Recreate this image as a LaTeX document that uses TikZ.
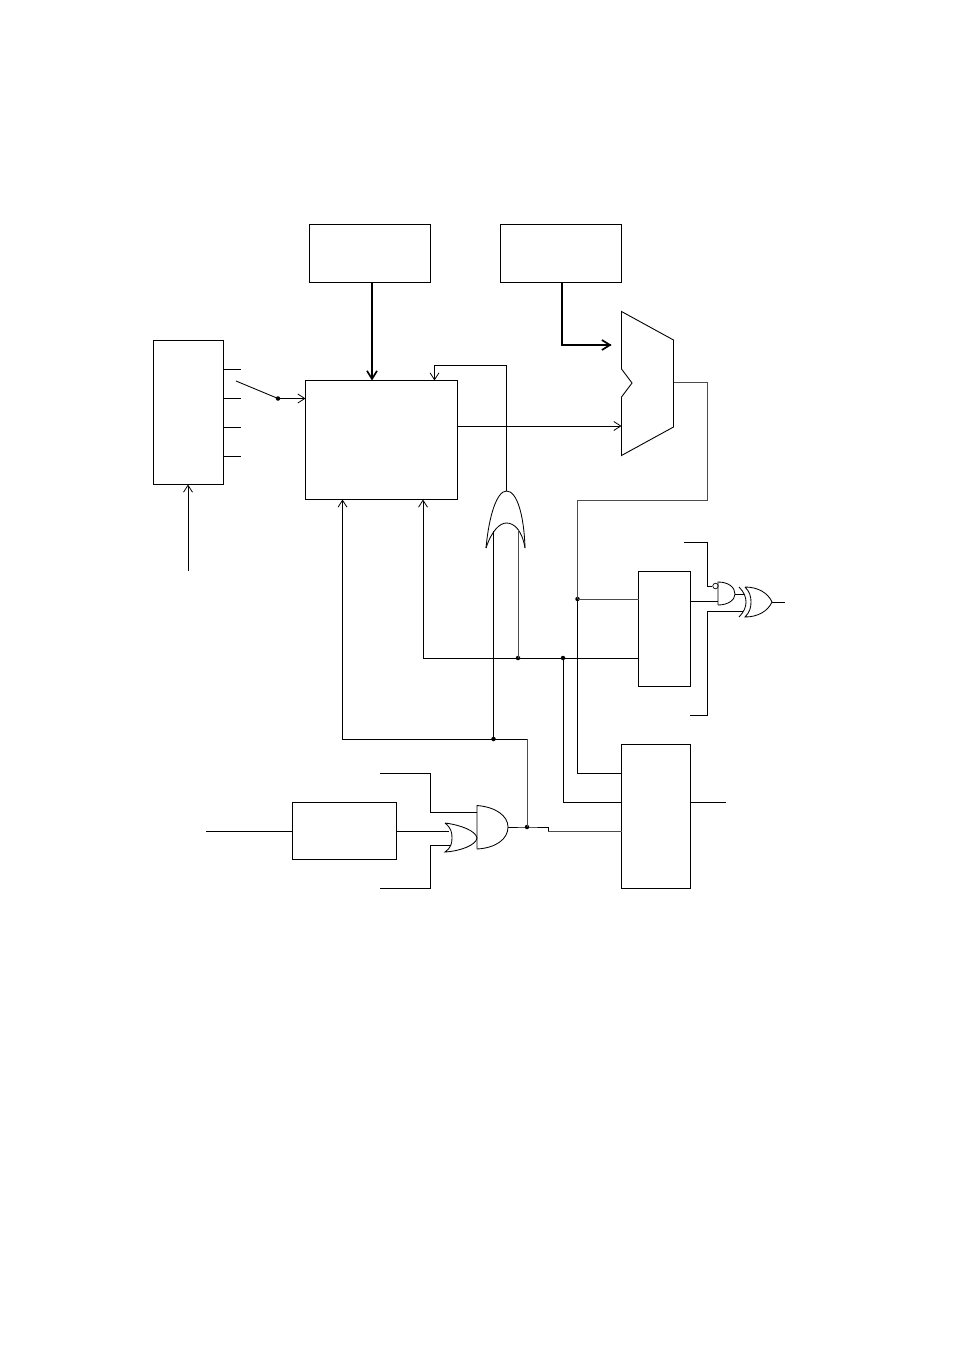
\documentclass[tikz,border=0pt]{standalone}
\usetikzlibrary{arrows.meta}
\definecolor{wiregray}{gray}{0.3}
\tikzset{
  box/.style={draw=black,line width=0.9pt,inner sep=0pt,outer sep=0pt,anchor=north west},
  wire/.style={draw=black,line width=0.85pt},
  graywire/.style={draw=wiregray,line width=1pt},
  gate/.style={draw=black,line width=0.85pt},
  bus/.style={draw=black,line width=1.7pt,-{Straight Barb[length=8pt,width=10pt,line width=1.7pt]}},
  arr/.style={-{Straight Barb[length=7pt,width=9pt,line width=0.8pt]}},
  junction/.style={circle,fill=black,inner sep=0pt,minimum size=4.5pt},
}
\begin{document}
\begin{tikzpicture}[x=1pt,y=-1pt]
\useasboundingbox (0,0) rectangle (954,1351);
% boxes
\node[box,minimum width=121pt,minimum height=58pt] (a) at (309.5,224.5) {};
\node[box,minimum width=121pt,minimum height=58pt] (b) at (500.5,224.5) {};
\node[box,minimum width=70pt,minimum height=144pt] (c) at (153.5,340.5) {};
\node[box,minimum width=152pt,minimum height=119pt] (d) at (305.5,380.5) {};
\draw[line width=1.5pt] (d.south west) -- (d.south east) -- (d.north east);
\node[box,minimum width=52pt,minimum height=115pt] (e) at (638.5,571.5) {};
\node[box,minimum width=69pt,minimum height=144pt] (f) at (621.5,744.5) {};
\node[box,minimum width=104pt,minimum height=57pt] (g) at (292.5,802.5) {};
% mux
\draw[gate,line width=0.9pt] (621.5,311.5) -- (673.5,340) -- (673.5,427) -- (621.5,455.5) -- (621.5,397) -- (632,383) -- (621.5,369) -- cycle;
\coordinate (muxin1) at (621.5,345);
\coordinate (muxin2) at (621.5,426);
\coordinate (muxout) at (673.5,382.5);
% buses
\draw[bus] (372,0 |- a.south) -- (372,0 |- d.north);
\draw[bus,-] (562,0 |- b.south) -- (562,345) -- (611,345);
\draw[line width=1.7pt,-{Straight Barb[length=8pt,width=10pt,line width=1.7pt]}] (562,345) -- (611.5,345);
% left box stubs
\foreach \y/\n in {369/s1,398/s2,427/s3,456/s4} {
  \coordinate (\n) at (241,\y);
  \draw[wire] (c.east |- \n) -- (\n);
}
\coordinate (sw) at (236,381);
\node[junction] (swd) at (278,398.5) {};
\draw[wire] (sw) -- (swd.center);
\draw[wire,arr] (swd.center) -- (d.west |- swd);
\coordinate (cin) at (188,571);
\draw[wire,arr] (cin) -- (cin |- c.south);
\draw[wire,arr] (d.east |- muxin2) -- (muxin2);
% mux output bus
\node[junction] (j1) at (577.5,599) {};
\coordinate (muxb) at (707.5,500);
\draw[graywire] (muxout) -- (707.5,382.5) -- (muxb) -- (577.5,500) -- (j1.center);
\draw[wire] (j1.center) -- (577.5,773) -- (f.west |- 0,773);
\draw[graywire] (j1.center) -- (e.west |- j1);
% large OR gate
\coordinate (o1top) at (506.5,491);
\draw[gate] (486,548) .. controls (489,515) and (497,491) .. (o1top) .. controls (517,491) and (524,515) .. (525,548);
\draw[gate] (486,548) .. controls (492,530) and (500,523) .. (506.5,523) .. controls (514,523) and (522,530) .. (525,548);
\coordinate (o1a) at (493.5,531);
\coordinate (o1b) at (518,529);
% OR output feedback
\draw[wire,arr] (o1top) -- (506.5,365) -- (434.5,365) -- (434.5,0 |- d.north);
% bus at y=658
\node[junction] (j2) at (518,658) {};
\node[junction] (j3) at (563,658) {};
\draw[wire,arr] (e.west |- j3) -- (423,658) -- (423,0 |- d.south);
\draw[graywire] (j2.center) -- (o1b);
\draw[wire] (j3.center) -- (563,802) -- (f.west |- 0,802);
% bus at y=739
\node[junction] (j4) at (493.5,739) {};
\node[junction] (j5) at (527,827) {};
\draw[wire,arr] (527,739) -- (342.5,739) -- (342.5,0 |- d.south);
\draw[wire] (j4.center) -- (o1a);
\draw[graywire] (527,739) -- (j5.center);
% AND gate at bottom
\draw[gate] (477,849) -- (477,805.5) .. controls (496,807) and (508,816) .. (508,827) .. controls (508,839) and (496,848) .. (477,849);
\coordinate (and1out) at (508,827);
\coordinate (and1in) at (477,812);
% small OR gate at bottom
\draw[gate] (445,823) .. controls (461,825) and (476,831) .. (477,838) .. controls (476,845) and (461,851) .. (445,852) .. controls (451,848) and (452,843) .. (452,838) .. controls (452,832) and (451,828) .. (445,823);
\coordinate (or2a) at (449,831);
\coordinate (or2b) at (451,845);
\coordinate (t1) at (380,773);
\coordinate (t2) at (380,888);
\coordinate (gin) at (206,831);
\draw[wire] (t1) -- (430.5,773) -- (430.5,812) -- (and1in);
\draw[wire] (t2) -- (430.5,888) -- (430.5,845) -- (or2b);
\draw[wire] (g.east |- or2a) -- (or2a);
\draw[wire] (gin) -- (g.west |- gin);
\draw[wire] (and1out) -- (j5.center) -- (548,827) -- (548,831);
\draw[graywire] (548,831) -- (f.west |- 0,831);
\coordinate (fout) at (726,802);
\draw[wire] (f.east |- fout) -- (fout);
% small AND gate with inverter bubble
\draw[gate] (718,605) -- (718,582) .. controls (728,582) and (735,587) .. (735,594) .. controls (735,600) and (728,605) .. (718,605);
\node[draw=black,circle,line width=0.7pt,inner sep=0pt,minimum size=5.5pt] (bub) at (715.5,586) {};
% XOR gate
\draw[gate] (739,587) .. controls (744,592) and (746,597) .. (746,602) .. controls (746,607) and (744,612) .. (739,617);
\draw[gate] (745,587) .. controls (750,592) and (751,597) .. (751,602) .. controls (751,607) and (750,612) .. (745,617) .. controls (758,617) and (768,611) .. (772,602) .. controls (768,593) and (758,587) .. (745,587);
\coordinate (xout) at (785,602);
\coordinate (xo) at (772,602);
\coordinate (t3) at (684,542);
\coordinate (t4) at (690,715);
\draw[wire] (t3) -- (707.5,542) -- (707.5,586) -- (bub.west);
\draw[wire] (e.east |- 0,601) -- (718,601);
\draw[wire] (t4) -- (707.5,715) -- (707.5,611) -- (743,611);
\draw[wire] (735,594) -- (744,594);
\draw[wire] (xo) -- (xout);
\end{tikzpicture}
\end{document}
